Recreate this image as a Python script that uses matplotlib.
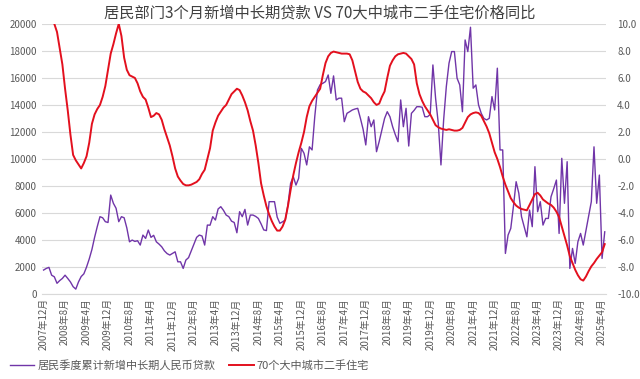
import matplotlib
matplotlib.use("Agg")
import matplotlib.pyplot as plt
import numpy as np

plt.rcParams['font.family'] = ['Noto Sans CJK SC', 'DejaVu Sans']

# Monthly series, 2007-12 .. 2025-05 (210 months)
loans = [
    1780, 1900, 1980, 1400, 1280, 800, 1000, 1160, 1400, 1160,
    900, 550, 370, 900, 1300, 1500, 2000, 2600, 3300, 4200,
    5000, 5730, 5650, 5360, 5300, 7330, 6720, 6350, 5360, 5730,
    5650, 4900, 3870, 4000, 3900, 3950, 3630, 4370, 4120, 4740,
    4200, 4350, 3870, 3700, 3500, 3200, 3000, 2890, 3010, 3130,
    2390, 2390, 1900, 2520, 2700, 3200, 3700, 4200, 4370, 4300,
    3630, 5110, 5100, 5730, 5480, 6300, 6470, 6200, 5850, 5730,
    5400, 5300, 4540, 6100, 5730, 6270, 5110, 5850, 5850, 5750,
    5600, 5200, 4750, 4700, 6840, 6840, 6840, 5700, 5240, 5350,
    5480, 6600, 8200, 8690, 8070, 8570, 10790, 10420, 9560, 10900,
    10670, 13130, 15100, 15500, 15600, 15730, 16220, 14860, 16150, 14370,
    14500, 14500, 12760, 13380, 13500, 13630, 13700, 13750, 13010, 12200,
    11040, 13130, 12390, 12890, 10540, 11300, 12150, 13000, 13500, 13130,
    12390, 11800, 11280, 14370, 12390, 13750, 10960, 13380, 13600, 13870,
    13870, 13830, 13130, 13130, 13300, 16960, 14500, 12640, 9560, 12890,
    15360, 17090, 17950, 17950, 15980, 15480, 13500, 18810, 17950, 19750,
    15240, 15480, 14000, 13380, 13000, 12890, 13010, 14620, 13630, 16720,
    10670, 10670, 3010, 4370, 4860, 6500, 8320, 7460, 5730, 5000,
    4240, 6220, 4990, 9430, 6100, 6840, 5110, 5600, 5600, 7210,
    7800, 8440, 4490, 10050, 6720, 9800, 1900, 3380, 2270, 3870,
    4490, 3630, 4700, 5730, 6840, 10900, 6720, 8810, 2640, 4610,
]

nan = float('nan')
price_yoy = [
    nan, nan, nan, nan, 10.0, 9.4, 8.2, 7.0, 5.2, 3.6,
    1.8, 0.3, -0.1, -0.4, -0.7, -0.3, 0.2, 1.2, 2.6, 3.3,
    3.7, 4.0, 4.6, 5.4, 6.6, 7.8, 8.5, 9.3, 10.0, 9.1,
    7.5, 6.6, 6.2, 6.1, 6.0, 5.6, 5.0, 4.6, 4.4, 3.8,
    3.1, 3.2, 3.4, 3.3, 2.9, 2.2, 1.6, 1.0, 0.2, -0.7,
    -1.3, -1.6, -1.85, -1.95, -1.95, -1.9, -1.8, -1.7, -1.5, -1.1,
    -0.8, 0.0, 0.8, 2.1, 2.7, 3.2, 3.5, 3.8, 4.0, 4.4,
    4.8, 5.0, 5.2, 5.1, 4.7, 4.2, 3.6, 2.8, 2.1, 1.0,
    -0.3, -1.8, -2.7, -3.5, -4.1, -4.6, -5.0, -5.3, -5.3, -5.0,
    -4.5, -3.5, -2.3, -1.2, -0.3, 0.5, 1.2, 2.0, 3.1, 3.9,
    4.3, 4.6, 4.9, 5.2, 6.2, 7.1, 7.6, 7.85, 7.95, 7.9,
    7.85, 7.8, 7.8, 7.8, 7.75, 7.3, 6.5, 5.7, 5.2, 5.0,
    4.9, 4.7, 4.5, 4.2, 4.0, 4.1, 4.6, 5.0, 6.0, 6.9,
    7.3, 7.6, 7.75, 7.8, 7.85, 7.8, 7.6, 7.4, 7.0, 5.6,
    4.8, 4.3, 3.9, 3.6, 3.3, 2.9, 2.5, 2.35, 2.25, 2.2,
    2.15, 2.2, 2.15, 2.1, 2.1, 2.15, 2.3, 2.7, 3.1, 3.3,
    3.4, 3.45, 3.4, 3.2, 2.8, 2.4, 1.9, 1.2, 0.5, 0.0,
    -0.6, -1.3, -1.9, -2.4, -2.9, -3.2, -3.45, -3.6, -3.7, -3.75,
    -3.8, -3.4, -3.0, -2.6, -2.5, -2.7, -3.0, -3.15, -3.3, -3.4,
    -3.6, -3.9, -4.3, -5.0, -5.7, -6.4, -7.2, -7.7, -8.2, -8.6,
    -8.9, -9.0, -8.7, -8.3, -7.95, -7.7, -7.4, -7.15, -6.9, -6.3,
]

tick_labels = [
    '2007年12月', '2008年8月', '2009年4月', '2009年12月', '2010年8月',
    '2011年4月', '2011年12月', '2012年8月', '2013年4月', '2013年12月',
    '2014年8月', '2015年4月', '2015年12月', '2016年8月', '2017年4月',
    '2017年12月', '2018年8月', '2019年4月', '2019年12月', '2020年8月',
    '2021年4月', '2021年12月', '2022年8月', '2023年4月', '2023年12月',
    '2024年8月', '2025年4月',
]
tick_step = 8

title = '居民部门3个月新增中长期贷款 VS 70大中城市二手住宅价格同比'
label_loans = '居民季度累计新增中长期人民币贷款'
label_price = '70个大中城市二手住宅'

purple = '#7035A8'
red = '#E3101E'
gray_text = '#595959'
grid_c = '#D9D9D9'

x = np.arange(len(loans))
fig = plt.figure(figsize=(6.4, 3.79), dpi=100)
ax = fig.add_axes([0.066, 0.224, 0.881, 0.713])
ax2 = ax.twinx()

l1, = ax.plot(x, loans, color=purple, lw=1.0, zorder=3)
l2, = ax2.plot(x, price_yoy, color=red, lw=1.4, zorder=3)

ax.set_ylim(0, 20000)
ax.set_yticks(np.arange(0, 20001, 2000))
ax2.set_ylim(-10, 10)
ax2.set_yticks(np.arange(-10, 10.01, 2))
ax2.set_yticklabels([f'{v:.1f}' for v in np.arange(-10, 10.01, 2)])
ax.set_xlim(-0.5, len(loans) - 0.5)

ax.grid(axis='y', color=grid_c, lw=0.8)
ax.set_axisbelow(True)
for a in (ax, ax2):
    for s in a.spines.values():
        s.set_visible(False)
ax.spines['bottom'].set_visible(True)
ax.spines['bottom'].set_color(grid_c)

ax.set_xticks(np.arange(0, tick_step * len(tick_labels), tick_step))
ax.set_xticklabels(tick_labels, rotation=90, fontsize=7, color=gray_text)
ax.tick_params(axis='x', length=0, pad=3)
ax.tick_params(axis='y', length=0, labelsize=7, labelcolor=gray_text, pad=4)
ax2.tick_params(axis='y', length=0, labelsize=7, labelcolor=gray_text, pad=8)

fig.text(0.5, 0.965, title, ha='center', va='center', fontsize=11, color='#404040')

fig.legend([l1, l2], [label_loans, label_price], loc='lower left',
           bbox_to_anchor=(0.0, -0.005), ncol=2, frameon=False, fontsize=8,
           handlelength=2.2, handletextpad=0.3, columnspacing=1.2,
           labelcolor=gray_text)

fig.savefig('out.png', dpi=100)
